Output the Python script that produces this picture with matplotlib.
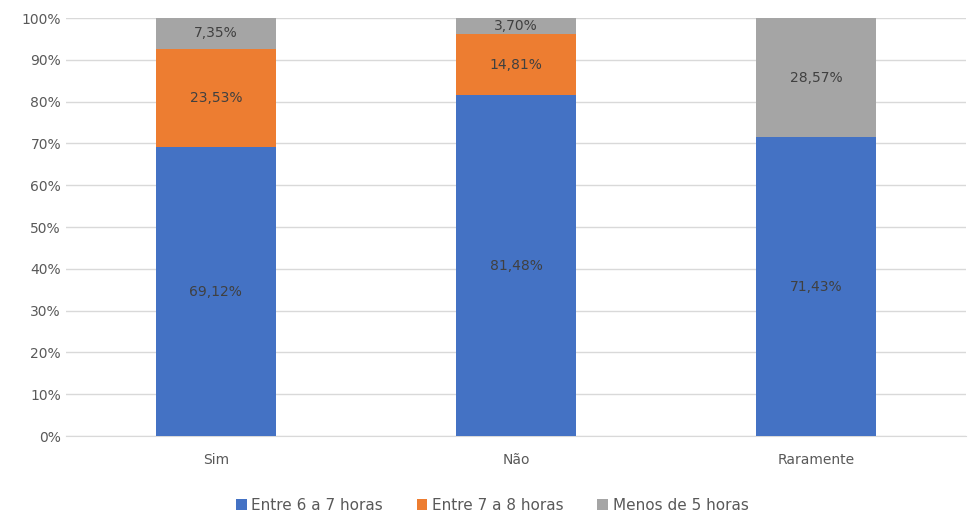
import matplotlib.pyplot as plt
import numpy as np

categories = ["Sim", "Não", "Raramente"]
entre_6_7 = [69.12, 81.48, 71.43]
entre_7_8 = [23.53, 14.81, 0.0]
menos_5 = [7.35, 3.70, 28.57]
series_names = ["Entre 6 a 7 horas", "Entre 7 a 8 horas", "Menos de 5 horas"]
colors = ["#4472C4", "#ED7D31", "#A5A5A5"]
yticks = [0, 10, 20, 30, 40, 50, 60, 70, 80, 90, 100]

def fmt(v):
    return f"{v:.2f}".replace(".", ",") + "%"

fig = plt.figure(figsize=(9.69, 5.16), dpi=100)
ax = fig.add_axes([0.068, 0.155, 0.929, 0.81])

x = np.arange(len(categories))
bottom = np.zeros(len(categories))
for name, vals, c in zip(series_names, [entre_6_7, entre_7_8, menos_5], colors):
    vals = np.array(vals)
    ax.bar(x, vals, 0.4, bottom=bottom, color=c, label=name, zorder=3)
    for xi, v, b in zip(x, vals, bottom):
        if v > 0:
            ax.text(xi, b + v / 2, fmt(v), ha="center", va="center",
                    fontsize=10, color="#404040", zorder=4)
    bottom += vals

ax.set_xlim(-0.5, 2.5)
ax.set_ylim(0, 100)
ax.set_yticks(yticks)
ax.set_yticklabels([f"{t}%" for t in yticks])
ax.set_xticks(x)
ax.set_xticklabels(categories)
ax.tick_params(axis="both", length=0, labelsize=10, labelcolor="#595959")
ax.tick_params(axis="x", pad=12)
ax.grid(axis="y", color="#D9D9D9", linewidth=1, zorder=0)
for s in ["top", "right", "left"]:
    ax.spines[s].set_visible(False)
ax.spines["bottom"].set_color("#D9D9D9")

fig.legend(loc="lower center", bbox_to_anchor=(0.508, -0.02), ncol=3, frameon=False,
           fontsize=11, labelcolor="#595959", handlelength=0.7, handleheight=0.7,
           columnspacing=2.2, handletextpad=0.3)

fig.savefig("out.png", dpi=100)
